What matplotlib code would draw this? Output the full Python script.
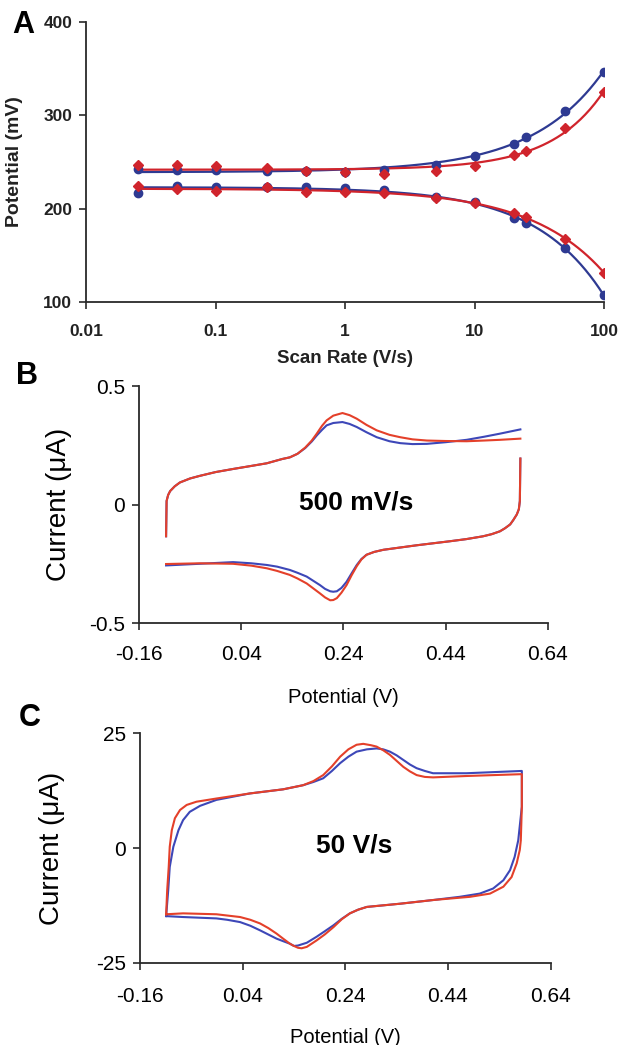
import numpy as np
import matplotlib
matplotlib.use("Agg")
import matplotlib.pyplot as plt

plt.rcParams['font.family'] = ['Liberation Sans', 'DejaVu Sans']
plt.rcParams['axes.unicode_minus'] = False

# ---- panel A: peak potentials vs scan rate ----
scan_rate = [0.025, 0.05, 0.1, 0.25, 0.5, 1, 2, 5, 10, 20, 25, 50, 100]
blue_ox = [243, 241.6, 241, 240, 240, 239, 241, 247.3, 256, 269.5, 276.7, 305, 346.6]
red_ox = [246.6, 247, 246, 244, 240, 239, 237, 240, 246, 257, 262, 286, 324.7]
blue_red = [216.5, 224, 223, 223, 223, 222, 220, 213, 207, 189.6, 185, 157.7, 107]
red_red = [224.7, 221, 218.6, 223, 217.6, 217.6, 216.5, 211.5, 206, 195, 191.4, 167.4, 131.5]
a_xticks = [0.01, 0.1, 1, 10, 100]
a_xlabels = ['0.01', '0.1', '1', '10', '100']
a_yticks = [100, 200, 300, 400]
a_ylabels = ['100', '200', '300', '400']

# ---- panel B: CV at 500 mV/s ----
b_fwd_v = [-0.107, -0.106, -0.103, -0.099, -0.090, -0.080, -0.060, -0.041, -0.010, 0.024,
           0.060, 0.090, 0.120, 0.135, 0.150, 0.165, 0.178, 0.188, 0.198, 0.207, 0.220,
           0.238, 0.252, 0.266, 0.285, 0.305, 0.330, 0.351, 0.375, 0.403, 0.440, 0.481,
           0.515, 0.546, 0.586]
b_fwd_blue = [-0.134, 0.015, 0.040, 0.057, 0.077, 0.093, 0.110, 0.121, 0.137, 0.150,
              0.163, 0.174, 0.192, 0.199, 0.214, 0.238, 0.266, 0.292, 0.315, 0.334, 0.344,
              0.348, 0.340, 0.327, 0.305, 0.284, 0.267, 0.259, 0.255, 0.256, 0.263, 0.273,
              0.286, 0.299, 0.317]
b_fwd_red = [-0.134, 0.015, 0.040, 0.057, 0.077, 0.093, 0.110, 0.121, 0.137, 0.150,
             0.163, 0.174, 0.192, 0.199, 0.214, 0.240, 0.270, 0.300, 0.332, 0.355, 0.375,
             0.386, 0.377, 0.362, 0.336, 0.313, 0.294, 0.284, 0.275, 0.270, 0.268, 0.267,
             0.270, 0.273, 0.278]
b_rev_v = [0.586, 0.585, 0.583, 0.579, 0.572, 0.566, 0.556, 0.546, 0.530, 0.513, 0.480,
           0.448, 0.383, 0.318, 0.300, 0.285, 0.275, 0.266, 0.256, 0.246, 0.236, 0.227,
           0.220, 0.214, 0.204, 0.194, 0.181, 0.168, 0.150, 0.135, 0.110, 0.090, 0.060,
           0.024, -0.041, -0.107]
b_rev_blue = [0.194, 0.015, -0.020, -0.042, -0.066, -0.084, -0.100, -0.113, -0.125, -0.134, -0.146,
              -0.155, -0.172, -0.191, -0.200, -0.212, -0.230, -0.255, -0.290, -0.326, -0.352, -0.366,
              -0.368, -0.366, -0.356, -0.340, -0.322, -0.304, -0.288, -0.276, -0.262, -0.255, -0.248,
              -0.243, -0.250, -0.257]
b_rev_red = [0.194, 0.015, -0.020, -0.042, -0.066, -0.084, -0.100, -0.113, -0.125, -0.134, -0.146,
             -0.155, -0.172, -0.191, -0.200, -0.212, -0.232, -0.260, -0.298, -0.340, -0.372, -0.395,
             -0.403, -0.404, -0.392, -0.375, -0.354, -0.333, -0.312, -0.297, -0.280, -0.269, -0.258,
             -0.250, -0.248, -0.251]
b_yticks = [-0.5, 0, 0.5]
b_ylabels = ['-0.5', '0', '0.5']

# ---- panel C: CV at 50 V/s (closed loops) ----
c_blue_v = [-0.109, -0.105, -0.102, -0.095, -0.085, -0.076, -0.063, -0.043, -0.011, 0.054,
            0.119, 0.158, 0.178, 0.197, 0.214, 0.230, 0.246, 0.262, 0.282, 0.301, 0.314,
            0.327, 0.340, 0.353, 0.366, 0.379, 0.395, 0.411, 0.476, 0.584,
            0.584, 0.577, 0.570, 0.561, 0.548, 0.528, 0.502, 0.463, 0.411, 0.347, 0.282,
            0.265, 0.249, 0.233, 0.217, 0.200, 0.184, 0.165, 0.148, 0.140, 0.132, 0.120,
            0.106, 0.090, 0.074, 0.055, 0.035, 0.010, -0.011, -0.076, -0.109]
c_blue_i = [-14.8, -9.2, -4.1, 0.3, 3.9, 6.1, 7.9, 9.2, 10.5, 11.9,
            12.8, 13.7, 14.4, 15.2, 16.8, 18.5, 19.9, 21.0, 21.5, 21.7, 21.5,
            21.0, 20.2, 19.2, 18.2, 17.4, 16.8, 16.3, 16.3, 16.8,
            9.0, 1.7, -1.9, -4.8, -7.0, -8.8, -9.9, -10.6, -11.3, -12.1, -12.8,
            -13.4, -14.2, -15.4, -16.8, -18.1, -19.3, -20.6, -21.2, -21.3, -20.8, -20.3,
            -19.7, -18.8, -17.9, -16.9, -16.1, -15.6, -15.3, -15.0, -14.8]
c_red_v = [-0.109, -0.107, -0.104, -0.102, -0.098, -0.092, -0.082, -0.069, -0.050, -0.011,
           0.054, 0.119, 0.158, 0.178, 0.197, 0.214, 0.230, 0.246, 0.262, 0.275, 0.290,
           0.301, 0.314, 0.327, 0.340, 0.353, 0.366, 0.379, 0.395, 0.411, 0.476, 0.584,
           0.584, 0.582, 0.580, 0.574, 0.564, 0.548, 0.522, 0.483, 0.411, 0.347, 0.282,
           0.265, 0.249, 0.233, 0.217, 0.200, 0.184, 0.165, 0.155, 0.148, 0.140, 0.132,
           0.120, 0.106, 0.090, 0.074, 0.055, 0.035, -0.011, -0.076, -0.109]
c_red_i = [-14.4, -9.2, -4.1, 0.3, 3.9, 6.5, 8.3, 9.4, 10.1, 10.8,
           11.9, 12.8, 13.7, 14.6, 15.9, 17.8, 19.9, 21.5, 22.5, 22.7, 22.4,
           22.1, 21.3, 20.3, 19.0, 17.7, 16.7, 15.9, 15.5, 15.4, 15.7, 16.1,
           9.0, 1.7, -0.4, -3.3, -6.3, -8.4, -9.9, -10.6, -11.3, -12.1, -12.8,
           -13.4, -14.2, -15.5, -17.2, -18.8, -20.1, -21.5, -21.8, -21.7, -21.3, -20.8,
           -19.8, -18.6, -17.4, -16.4, -15.6, -15.0, -14.4, -14.2, -14.4]
c_yticks = [-25, 0, 25]
c_ylabels = ['-25', '0', '25']

cv_xticks = [-0.16, 0.04, 0.24, 0.44, 0.64]
cv_xlabels = ['-0.16', '0.04', '0.24', '0.44', '0.64']

BLUE_A = '#2e3a92'
RED_A = '#d0242c'
BLUE = '#3d47b8'
RED = '#e4402a'
AXC = '#2a2a2a'

fig = plt.figure(figsize=(6.18, 10.45), dpi=100)


def style_axes(ax):
    for s in ['top', 'right']:
        ax.spines[s].set_visible(False)
    for s in ['left', 'bottom']:
        ax.spines[s].set_color(AXC)
        ax.spines[s].set_linewidth(1.3)
    ax.tick_params(direction='out', length=5, width=1.2, color=AXC)


def trend(x, y):
    # least-squares fit of y = a + b * x**p, p picked by scanning
    best = None
    for p in np.linspace(0.2, 1.5, 131):
        A = np.column_stack([np.ones_like(x), x ** p])
        coef, res, _, _ = np.linalg.lstsq(A, y, rcond=None)
        r = np.sum((A @ coef - y) ** 2)
        if best is None or r < best[0]:
            best = (r, p, coef)
    return best[1], best[2]


# panel A
axA = fig.add_axes([0.1392, 0.7110, 0.8382, 0.2679])
style_axes(axA)
x = np.array(scan_rate)
xfit = np.logspace(np.log10(0.025), 2, 200)
for yv, col in [(blue_ox, BLUE_A), (red_ox, RED_A), (blue_red, BLUE_A), (red_red, RED_A)]:
    p, coef = trend(x, np.array(yv))
    axA.plot(xfit, coef[0] + coef[1] * xfit ** p, color=col, lw=1.6, zorder=2)
axA.plot(x, blue_ox, 'o', color=BLUE_A, ms=6, zorder=3)
axA.plot(x, blue_red, 'o', color=BLUE_A, ms=6, zorder=3)
axA.plot(x, red_ox, 'D', color=RED_A, ms=5, zorder=4)
axA.plot(x, red_red, 'D', color=RED_A, ms=5, zorder=4)
axA.set_xscale('log')
axA.set_xlim(0.01, 100)
axA.set_ylim(100, 400)
axA.set_xticks(a_xticks, a_xlabels)
axA.set_xticks([], minor=True)
axA.set_yticks(a_yticks, a_ylabels)
axA.tick_params(axis='x', pad=11, labelsize=12.5, labelcolor='#222222')
axA.tick_params(axis='y', pad=5, labelsize=12.5, labelcolor='#222222')
axA.set_xlabel('Scan Rate (V/s)', fontsize=13.5, fontweight='bold', color='#222222')
axA.xaxis.set_label_coords(0.5, -0.171)
axA.set_ylabel('Potential (mV)', fontsize=14, fontweight='bold', color='#222222')
axA.yaxis.set_label_coords(-0.122, 0.5)

# panel B
axB = fig.add_axes([0.2249, 0.4038, 0.6618, 0.2268])
style_axes(axB)
axB.plot(b_fwd_v, b_fwd_blue, color=BLUE, lw=1.5)
axB.plot(b_rev_v, b_rev_blue, color=BLUE, lw=1.5)
axB.plot(b_fwd_v, b_fwd_red, color=RED, lw=1.5)
axB.plot(b_rev_v, b_rev_red, color=RED, lw=1.5)
axB.set_xlim(-0.16, 0.64)
axB.set_ylim(-0.5, 0.5)
axB.set_xticks(cv_xticks, cv_xlabels)
axB.set_yticks(b_yticks, b_ylabels)
axB.tick_params(axis='x', pad=11, labelsize=15)
axB.tick_params(axis='y', pad=5, labelsize=15)
axB.set_xlabel('Potential (V)', fontsize=14.5)
axB.xaxis.set_label_coords(0.5, -0.274)
axB.set_ylabel('Current (\u03bcA)', fontsize=20)
axB.yaxis.set_label_coords(-0.164, 0.5)
axB.text(0.264, 0.01, '500 mV/s', fontsize=19, fontweight='bold', ha='center', va='center')

# panel C
axC = fig.add_axes([0.2265, 0.0785, 0.6644, 0.2198])
style_axes(axC)
axC.plot(c_blue_v, c_blue_i, color=BLUE, lw=1.5)
axC.plot(c_red_v, c_red_i, color=RED, lw=1.5)
axC.set_xlim(-0.16, 0.64)
axC.set_ylim(-25, 25)
axC.set_xticks(cv_xticks, cv_xlabels)
axC.set_yticks(c_yticks, c_ylabels)
axC.tick_params(axis='x', pad=12, labelsize=15)
axC.tick_params(axis='y', pad=5, labelsize=15)
axC.set_xlabel('Potential (V)', fontsize=14.5)
axC.xaxis.set_label_coords(0.5, -0.283)
axC.set_ylabel('Current (\u03bcA)', fontsize=20)
axC.yaxis.set_label_coords(-0.183, 0.5)
axC.text(0.257, 0.6, '50 V/s', fontsize=19, fontweight='bold', ha='center', va='center')

# panel letters
fig.text(23 / 618, 1 - 25 / 1045, 'A', fontsize=22, fontweight='heavy', ha='center', va='center')
fig.text(27 / 618, 1 - 376 / 1045, 'B', fontsize=22, fontweight='heavy', ha='center', va='center')
fig.text(30 / 618, 1 - 718 / 1045, 'C', fontsize=22, fontweight='heavy', ha='center', va='center')

# bold tick labels for panel A (after ticks exist)
fig.canvas.draw()
for lab in axA.get_xticklabels() + axA.get_yticklabels():
    lab.set_fontweight('bold')

fig.savefig('out.png', dpi=100)
